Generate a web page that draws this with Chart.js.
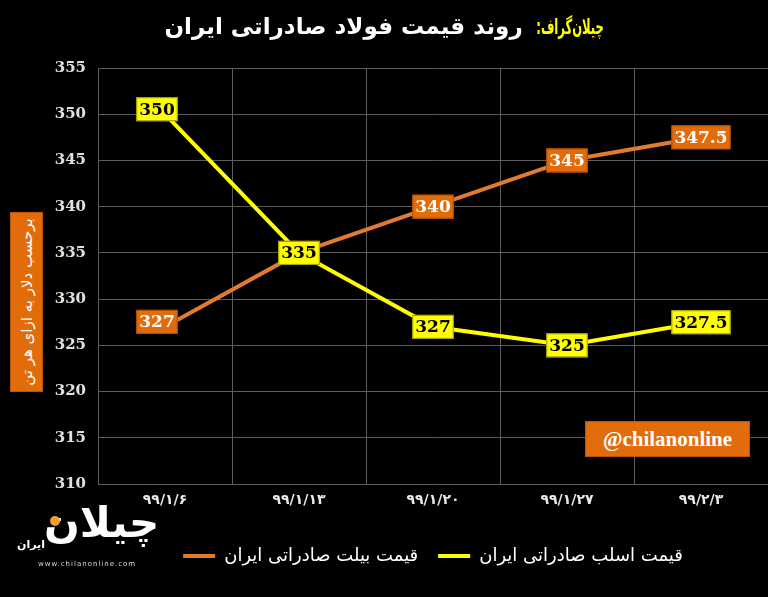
<!DOCTYPE html>
<html lang="fa">
<head>
  <meta charset="UTF-8">
  <title>روند قیمت فولاد صادراتی ایران</title>
  <style>
    html, body { margin: 0; padding: 0; background: #000; }
    #wrap { position: relative; width: 768px; height: 597px; background: #000; overflow: hidden; }
    canvas { position: absolute; left: 0; top: 0; }
    .title { position: absolute; left: 0; width: 768px; top: 13px; text-align: center; color: #fff;
             font: bold 23px "DejaVu Sans", sans-serif; direction: rtl; white-space: nowrap; }
    .title span { display: inline-block; color: #ffff00; font-size: 21px; transform: scaleX(0.55);
                  transform-origin: right center; margin-left: -50px; }
    .ytitle { position: absolute; left: 10px; top: 212px; width: 33px; height: 180px; background: #e36c0a;
              border: 1px solid #b85508; box-sizing: border-box; }
    .ytitle div { position: absolute; left: 50%; top: 50%; transform: translate(-50%, -50%) rotate(-90deg);
                  white-space: nowrap; color: #fff; font: 15px "DejaVu Sans", sans-serif; direction: rtl; }
    .tag { position: absolute; left: 585px; top: 421px; width: 165px; height: 36px; background: #e36c0a;
           border: 1px solid #b85508; box-sizing: border-box; color: #fff; font: bold 21px "Liberation Serif", serif;
           line-height: 34px; text-align: center; }
    .logo { position: absolute; left: 14px; top: 506px; width: 120px; height: 62px; }
    .logo .big { position: absolute; left: 30px; top: -8px; color: #fff; font: bold 42px "DejaVu Sans", sans-serif; direction: rtl; }
    .logo .small { position: absolute; left: 3px; top: 32px; color: #fff; font: bold 11px "DejaVu Sans", sans-serif; direction: rtl; }
    .logo .dot { position: absolute; left: 36px; top: 10px; width: 10px; height: 10px; border-radius: 50%; background: #f0a030; }
    .logo .url { position: absolute; left: 24px; top: 54px; color: #ddd; font: 7px "DejaVu Sans", sans-serif; letter-spacing: 1px; }
  </style>
  <script src="https://cdn.jsdelivr.net/npm/chart.js"></script>
</head>
<body>
<div id="wrap">
  <canvas id="chart" width="768" height="597"></canvas>
  <div class="title"><span>چیلان‌گراف:</span> روند قیمت فولاد صادراتی ایران</div>
  <div class="ytitle"><div>برحسب دلار به ازای هر تن</div></div>
  <div class="tag">@chilanonline</div>
  <div class="logo">
    <div class="big">چیلان</div>
    <div class="dot"></div>
    <div class="small">ایران</div>
    <div class="url">www.chilanonline.com</div>
  </div>
</div>

<script>
  // داده‌ها
  const dates = ['۹۹/۱/۶', '۹۹/۱/۱۳', '۹۹/۱/۲۰', '۹۹/۱/۲۷', '۹۹/۲/۳'];
  const billetName = 'قیمت بیلت صادراتی ایران';
  const slabName = 'قیمت اسلب صادراتی ایران';
  const billetPrices = [327, 335, 340, 345, 347.5];
  const slabPrices = [350, 335, 327, 325, 327.5];
  const yMin = 310, yMax = 355, yStep = 5;

  // جعبه‌های برچسب روی نقاط
  const boxLabels = {
    id: 'boxLabels',
    afterDatasetsDraw(chart) {
      const ctx = chart.ctx;
      ctx.save();
      ctx.font = 'bold 17px "DejaVu Serif", serif';
      ctx.textAlign = 'center';
      ctx.textBaseline = 'middle';
      chart.data.datasets.forEach((ds, i) => {
        const meta = chart.getDatasetMeta(i);
        meta.data.forEach((pt, j) => {
          const txt = String(ds.data[j]);
          const w = ctx.measureText(txt).width + 6;
          const h = 24;
          const x = pt.x - (j === 0 ? 8 : 0);
          const y = pt.y - (j === 0 ? 5 : 0);
          ctx.fillStyle = ds.boxColor;
          ctx.fillRect(x - w / 2, y - h / 2, w, h);
          ctx.strokeStyle = ds.boxBorder;
          ctx.lineWidth = 1;
          ctx.strokeRect(x - w / 2 + 0.5, y - h / 2 + 0.5, w - 1, h - 1);
          ctx.fillStyle = ds.textColor;
          ctx.fillText(txt, x, y + 1);
        });
      });
      ctx.restore();
    }
  };

  new Chart(document.getElementById('chart'), {
    type: 'line',
    data: {
      labels: dates,
      datasets: [
        {
          label: billetName, data: billetPrices,
          borderColor: '#e07b30', backgroundColor: '#e07b30', borderWidth: 4,
          borderCapStyle: 'round', pointRadius: 0, tension: 0,
          boxColor: '#e36c0a', boxBorder: '#a94f06', textColor: '#ffffff'
        },
        {
          label: slabName, data: slabPrices,
          borderColor: '#ffff00', backgroundColor: '#ffff00', borderWidth: 4,
          borderCapStyle: 'round', pointRadius: 0, tension: 0,
          boxColor: '#ffff00', boxBorder: '#9a9a00', textColor: '#000000'
        }
      ]
    },
    options: {
      responsive: false,
      animation: false,
      layout: { padding: { top: 68, left: 8, right: 0, bottom: 22 } },
      scales: {
        x: {
          offset: true,
          grid: { offset: true, color: '#5c5c5c', lineWidth: 1, drawTicks: false },
          border: { color: '#5c5c5c' },
          ticks: { color: '#e8e8e8', font: { family: 'DejaVu Sans', size: 14, weight: 'bold' }, padding: 8, maxRotation: 0 },
          afterFit(scale) { scale.height = 43; }
        },
        y: {
          min: yMin, max: yMax,
          grid: { color: '#5c5c5c', lineWidth: 1, drawTicks: false },
          border: { color: '#5c5c5c' },
          ticks: { stepSize: yStep, color: '#e0e0e0', font: { family: 'DejaVu Serif', size: 15, weight: 'bold' }, padding: 12 },
          afterFit(scale) { scale.width = 90; }
        }
      },
      plugins: {
        legend: {
          position: 'bottom',
          fullSize: false,
          labels: {
            color: '#ffffff', usePointStyle: true, pointStyle: 'line', pointStyleWidth: 32,
            font: { family: 'DejaVu Sans', size: 18 }, padding: 20
          }
        },
        tooltip: { enabled: false }
      }
    },
    plugins: [boxLabels]
  });
</script>
</body>
</html>
